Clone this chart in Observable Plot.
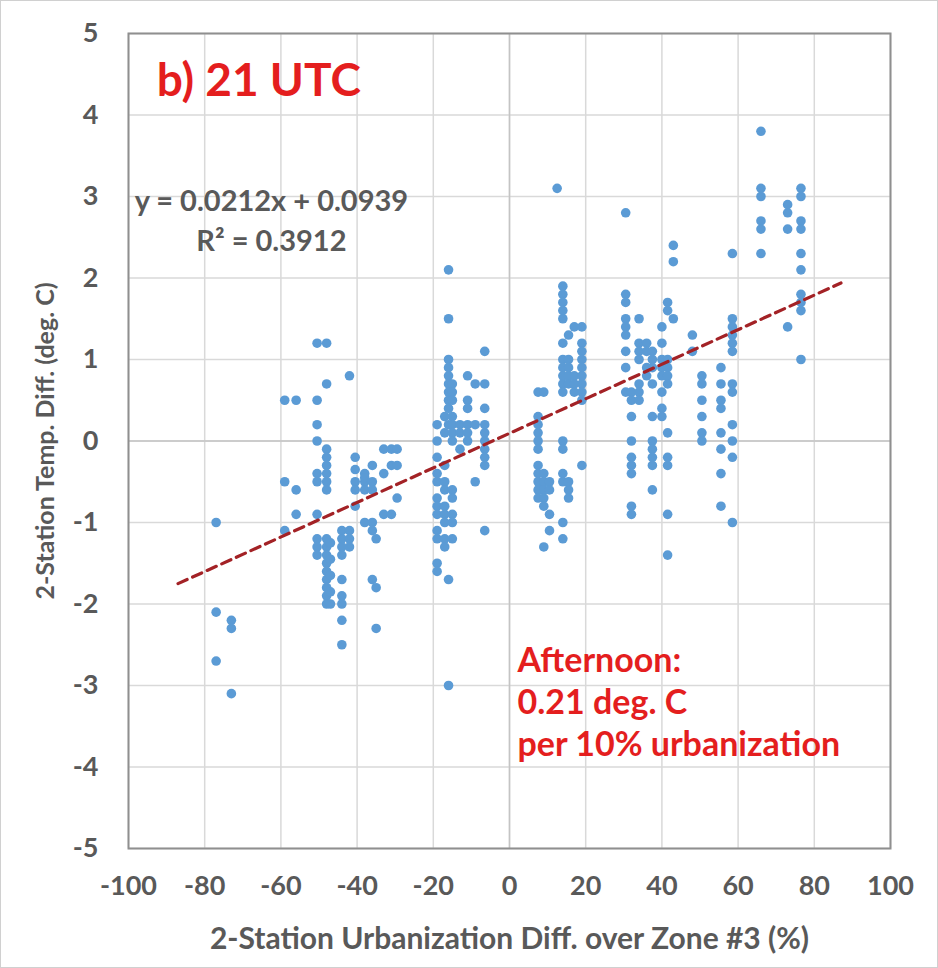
<!DOCTYPE html>
<html>
<head>
<meta charset="utf-8">
<script src="https://cdn.jsdelivr.net/npm/d3@7"></script>
<script src="https://cdn.jsdelivr.net/npm/@observablehq/plot@0.6"></script>
<style>
  html, body { margin: 0; padding: 0; background: #ffffff; }
  #chart { width: 938px; height: 968px; box-sizing: border-box; border: 1px solid #d0d0d0; overflow: hidden; }
  #chart svg { display: block; }
</style>
</head>
<body>
<div id="chart"></div>
<script>
// Urbanization difference (%) of each station column, and the temperature differences (deg C) at that column
const columnUrban = [
  -77, -73, -59, -56, -50.5, -48, -47, -44, -42, -40.5, -38, -36, -35, -33, -31, -29.5,
  -19, -17, -16, -15, -13, -11, -9, -6.5,
  7.5, 9, 10.5, 12.5, 14, 15.5, 17, 19,
  30.5, 32, 34, 36, 37.5, 40, 41.5, 43, 48, 50.5,
  55.5, 58.5, 66, 73, 76.5
];
const columnTemp = [
  [-1.0, -2.1, -2.7],
  [-2.2, -2.3, -3.1],
  [0.5, -0.5, -1.1],
  [0.5, -0.6, -0.9],
  [1.2, 0.5, 0.2, 0.0, -0.4, -0.5, -0.9, -1.2, -1.3, -1.4],
  [1.2, 0.7, -0.1, -0.2, -0.3, -0.4, -0.5, -0.6, -1.2, -1.3, -1.4, -1.5, -1.6, -1.7, -1.8, -1.9, -2.0],
  [-1.25, -1.45, -1.65, -1.85, -2.0],
  [-1.1, -1.2, -1.3, -1.4, -1.7, -1.9, -2.0, -2.2, -2.5],
  [0.8, -1.1, -1.2, -1.3],
  [-0.2, -0.35, -0.5, -0.6, -0.8],
  [-0.4, -0.5, -0.6, -0.45, -1.0],
  [-0.3, -0.5, -0.6, -1.0, -1.1, -1.7],
  [-1.2, -1.8, -2.3],
  [-0.1, -0.4, -0.9],
  [-0.1, -0.3, -0.9],
  [-0.1, -0.3, -0.7],
  [0.2, 0.0, -0.2, -0.4, -0.5, -0.7, -0.8, -0.9, -1.1, -1.2, -1.5, -1.6],
  [0.3, 0.1, -0.3, -0.5, -0.6, -0.8, -0.9, -1.0, -1.2, -1.3],
  [2.1, 1.5, 1.0, 0.9, 0.8, 0.7, 0.6, 0.5, 0.4, 0.2, -1.7, -3.0],
  [0.7, 0.6, 0.5, 0.3, 0.2, 0.1, 0.0, -0.6, -0.7, -0.9, -1.0, -1.2],
  [0.2, 0.1, -0.1],
  [0.8, 0.5, 0.4, 0.2, 0.1, 0.0],
  [0.7, 0.2, -0.5],
  [1.1, 0.7, 0.4, 0.2, 0.1, 0.0, -0.1, -0.2, -0.3, -1.1],
  [0.6, 0.3, 0.2, 0.1, 0.0, -0.1, -0.3, -0.4, -0.5, -0.6, -0.7],
  [0.6, -0.4, -0.5, -0.6, -0.7, -0.8, -1.3],
  [-0.5, -0.6, -0.9, -1.1],
  [3.1],
  [1.9, 1.8, 1.7, 1.6, 1.5, 1.2, 1.0, 0.9, 0.8, 0.7, 0.6, 0.0, -0.1, -0.4, -0.5, -1.0, -1.2],
  [1.3, 1.0, 0.9, 0.8, 0.7, -0.5, -0.6, -0.7],
  [1.4, 0.8, 0.7, 0.6],
  [1.4, 1.2, 1.1, 1.0, 0.9, 0.8, 0.7, 0.6, 0.5, -0.3],
  [2.8, 1.8, 1.7, 1.5, 1.4, 1.3, 1.1, 0.9, 0.6],
  [0.6, 0.5, 0.3, 0.0, -0.2, -0.3, -0.4, -0.8, -0.9],
  [1.5, 1.2, 1.1, 1.0, 0.7, 0.6, 0.5],
  [1.2, 1.1, 0.9, 0.8],
  [1.1, 1.0, 0.9, 0.7, 0.3, 0.0, -0.1, -0.2, -0.3, -0.6],
  [1.4, 1.2, 1.0, 0.9, 0.8, 0.6, 0.4, 0.3],
  [1.7, 1.6, 1.0, 0.9, 0.8, 0.7, 0.1, -0.2, -0.3, -0.9, -1.4],
  [2.4, 2.2, 1.5],
  [1.3, 1.1],
  [0.8, 0.7, 0.5, 0.3, 0.1, 0.0],
  [0.9, 0.7, 0.5, 0.4, 0.1, -0.1, -0.4, -0.8],
  [2.3, 1.5, 1.4, 1.3, 1.2, 1.1, 0.7, 0.6, 0.2, 0.0, -0.2, -1.0],
  [3.8, 3.1, 3.0, 2.7, 2.6, 2.3],
  [2.9, 2.8, 2.6, 1.4],
  [3.1, 3.0, 2.7, 2.6, 2.3, 2.1, 1.8, 1.7, 1.6, 1.0]
];

// Linear trend line given in the chart
const trendSlope = 0.0212;
const trendIntercept = 0.0939;
const trendRange = [-87, 87];

const xTicks = [-100, -80, -60, -40, -20, 0, 20, 40, 60, 80, 100];
const yTicks = [-5, -4, -3, -2, -1, 0, 1, 2, 3, 4, 5];

const titleText = "b) 21 UTC";
const equationLines = ["y = 0.0212x + 0.0939", "R² = 0.3912"];
const noteLines = ["Afternoon:", "0.21 deg. C", "per 10% urbanization"];

const points = columnUrban.flatMap((x, i) => columnTemp[i].map(y => ({x, y})));
const trend = trendRange.map(x => ({x, y: trendSlope * x + trendIntercept}));

const FONT = "Lato, 'Open Sans', sans-serif";
const grey = "#595959";
const red = "#e41e1e";
const fmt = d => String(d);

const chart = Plot.plot({
  width: 936,
  height: 966,
  marginLeft: 127,
  marginRight: 47,
  marginTop: 32,
  marginBottom: 119,
  style: {fontFamily: FONT, fontWeight: "bold", background: "#ffffff", overflow: "visible"},
  x: {domain: [-100, 100]},
  y: {domain: [-5, 5]},
  marks: [
    Plot.gridX(xTicks, {stroke: "#d9d9d9", strokeOpacity: 1, strokeWidth: 1.5}),
    Plot.gridY(yTicks, {stroke: "#d9d9d9", strokeOpacity: 1, strokeWidth: 1.5}),
    Plot.ruleX([0], {stroke: "#c4c4c4", strokeWidth: 1.5}),
    Plot.ruleY([0], {stroke: "#c4c4c4", strokeWidth: 1.5}),
    Plot.frame({stroke: "#8f8f8f", strokeWidth: 2}),
    Plot.axisX(xTicks, {
      tickSize: 0, tickPadding: 27, fontSize: 27, fill: grey, tickFormat: fmt, label: null
    }),
    Plot.axisX({
      ticks: [], tickSize: 0, fontSize: 30, fill: grey,
      label: "2-Station Urbanization Diff. over Zone #3 (%)",
      labelAnchor: "center", labelOffset: 100, labelArrow: "none"
    }),
    Plot.axisY(yTicks, {
      tickSize: 0, tickPadding: 30, fontSize: 27, fill: grey, tickFormat: fmt, label: null
    }),
    Plot.axisY({
      ticks: [], tickSize: 0, fontSize: 25, fill: grey,
      label: "2-Station Temp. Diff. (deg. C)",
      labelAnchor: "center", labelOffset: 92, labelArrow: "none"
    }),
    Plot.dot(points, {x: "x", y: "y", r: 4.8, fill: "#5b9bd5", stroke: "none"}),
    Plot.line(trend, {x: "x", y: "y", stroke: "#a32226", strokeWidth: 3.2, strokeDasharray: "10,6"}),
    Plot.text([titleText], {x: -92.6, y: 4.42, text: d => d, textAnchor: "start", fontSize: 46, fill: red, fontWeight: "bold"}),
    Plot.text(equationLines, {x: -62.5, y: (d, i) => 2.94 - i * 0.49, text: d => d, textAnchor: "middle", fontSize: 29, fill: grey, fontWeight: "bold"}),
    Plot.text(noteLines, {x: 2.1, y: (d, i) => -2.7 - i * 0.515, text: d => d, textAnchor: "start", fontSize: 34, fill: red, fontWeight: "bold"})
  ]
});

document.getElementById("chart").appendChild(chart);
</script>
</body>
</html>
